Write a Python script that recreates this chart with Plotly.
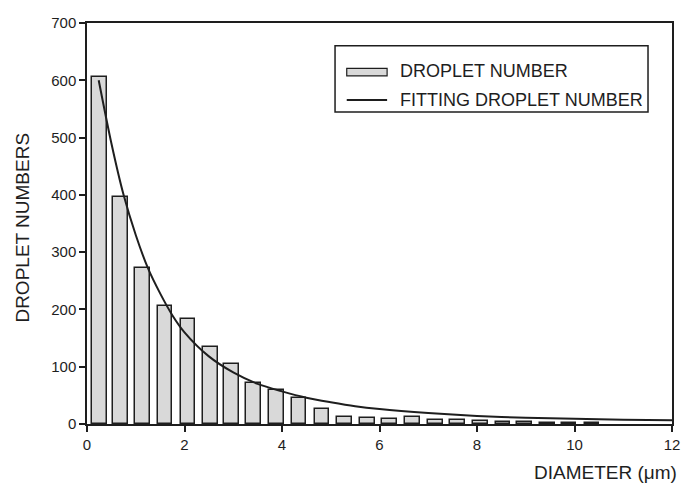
import plotly.graph_objects as go

# Droplet size histogram (bin centres in micrometres) and counts
diameter_bins = [0.25, 0.69, 1.14, 1.60, 2.07, 2.53, 2.97, 3.42, 3.89, 4.35, 4.82, 5.28,
                 5.75, 6.21, 6.68, 7.15, 7.60, 8.07, 8.53, 8.98, 9.44, 9.89, 10.36]
droplet_counts = [606, 396, 273, 206, 183, 135, 104, 71, 59, 46, 27, 13,
                  11, 9, 13, 7, 7, 6, 4, 3, 2, 1.5, 1]

# Fitted distribution curve sampled along the diameter axis
fit_diameter = [0.24, 0.5, 0.75, 1.0, 1.25, 1.5, 1.75, 2.0, 2.5, 3.0, 3.5, 4.0, 4.5,
                5.0, 5.5, 6.0, 7.0, 8.0, 9.0, 10.0, 11.0, 12.0]
fit_counts = [600, 490, 400, 330, 272, 228, 190, 160, 118, 90, 70, 57, 46,
              38, 31, 26, 19, 14, 11, 9, 7.5, 6.5]

x_ticks = [0, 2, 4, 6, 8, 10, 12]
y_ticks = [0, 100, 200, 300, 400, 500, 600, 700]

FONT = "Liberation Sans, Arial, sans-serif"
INK = "#1e1e1e"

fig = go.Figure()
fig.add_trace(go.Bar(
    x=diameter_bins, y=droplet_counts, width=0.30,
    marker=dict(color="#d9d9d9", line=dict(color=INK, width=1.5)),
    name="DROPLET NUMBER", showlegend=False,
))
fig.add_trace(go.Scatter(
    x=fit_diameter, y=fit_counts, mode="lines",
    line=dict(color=INK, width=2, shape="spline", smoothing=0.8),
    name="FITTING DROPLET NUMBER", showlegend=False,
))

# Boxed legend drawn in paper coordinates
shapes = [
    dict(type="rect", xref="paper", yref="paper", x0=0.424, x1=0.959, y0=0.778, y1=0.943,
         line=dict(color=INK, width=1.5), fillcolor="white", layer="above"),
    dict(type="rect", xref="paper", yref="paper", x0=0.444, x1=0.513, y0=0.868, y1=0.887,
         line=dict(color=INK, width=1.2), fillcolor="#d9d9d9", layer="above"),
    dict(type="line", xref="paper", yref="paper", x0=0.444, x1=0.513, y0=0.808, y1=0.808,
         line=dict(color=INK, width=2), layer="above"),
]
annotations = [
    dict(text="DROPLET NUMBER", xref="paper", yref="paper", x=0.532, y=0.880,
         xanchor="left", yanchor="middle", showarrow=False,
         font=dict(family=FONT, size=18, color=INK)),
    dict(text="FITTING DROPLET NUMBER", xref="paper", yref="paper", x=0.532, y=0.808,
         xanchor="left", yanchor="middle", showarrow=False,
         font=dict(family=FONT, size=18, color=INK)),
    dict(text="DROPLET NUMBERS", xref="paper", yref="paper", x=-0.111, y=0.49,
         xanchor="center", yanchor="middle", textangle=-90, showarrow=False,
         font=dict(family=FONT, size=19, color=INK)),
    dict(text="DIAMETER (\u03bcm)", xref="paper", yref="paper", x=1.012, y=-0.12,
         xanchor="right", yanchor="middle", showarrow=False,
         font=dict(family=FONT, size=19, color=INK)),
]

fig.update_layout(
    width=681, height=490,
    margin=dict(l=87, r=9, t=23, b=66),
    paper_bgcolor="white", plot_bgcolor="white",
    font=dict(family=FONT, size=14, color=INK),
    shapes=shapes, annotations=annotations,
    bargap=0,
)
fig.update_xaxes(
    range=[0, 12], tickvals=x_ticks, ticktext=[str(v) for v in x_ticks],
    showgrid=False, zeroline=False, showline=True, linecolor=INK, linewidth=1.5,
    mirror=True, ticks="outside", ticklen=6, tickwidth=1.5, tickcolor=INK,
    tickfont=dict(family=FONT, size=15, color=INK), automargin=False,
)
fig.update_yaxes(
    range=[0, 700], tickvals=y_ticks, ticktext=[str(v) for v in y_ticks],
    showgrid=False, zeroline=False, showline=True, linecolor=INK, linewidth=1.5,
    mirror=True, ticks="outside", ticklen=6, tickwidth=1.5, tickcolor=INK,
    tickfont=dict(family=FONT, size=15, color=INK), automargin=False,
)

fig.write_html("out.html")
